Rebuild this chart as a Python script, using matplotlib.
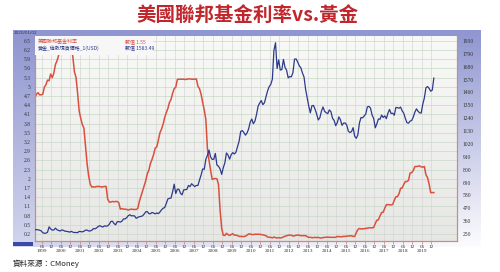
import numpy as np
import matplotlib.pyplot as plt
from matplotlib.patches import Rectangle

# monthly data, Jan 1999 - Jan 2020
fed_rate = [
    4.63, 4.76, 4.81, 4.74, 4.74, 4.76, 4.99, 5.07, 5.22, 5.20, 5.42, 5.30,
    5.45, 5.73, 5.85, 6.02, 6.27, 6.53, 6.54, 6.50, 6.52, 6.51, 6.51, 6.40,
    5.98, 5.49, 5.31, 4.80, 4.21, 3.97, 3.77, 3.65, 3.07, 2.49, 2.09, 1.82,
    1.73, 1.74, 1.73, 1.75, 1.75, 1.75, 1.73, 1.74, 1.75, 1.75, 1.34, 1.24,
    1.24, 1.26, 1.25, 1.26, 1.26, 1.22, 1.01, 1.03, 1.01, 1.01, 1.00, 0.98,
    1.00, 1.01, 1.00, 1.00, 1.00, 1.03, 1.26, 1.43, 1.61, 1.76, 1.93, 2.16,
    2.28, 2.50, 2.63, 2.79, 3.00, 3.04, 3.26, 3.50, 3.62, 3.78, 4.00, 4.16,
    4.29, 4.49, 4.59, 4.79, 4.94, 4.99, 5.24, 5.25, 5.25, 5.25, 5.25, 5.24,
    5.25, 5.26, 5.26, 5.25, 5.25, 5.25, 5.26, 5.02, 4.94, 4.76, 4.49, 4.24,
    3.94, 2.98, 2.61, 2.28, 1.98, 2.00, 2.01, 2.00, 1.81, 0.97, 0.39, 0.16,
    0.15, 0.22, 0.18, 0.15, 0.18, 0.21, 0.16, 0.16, 0.15, 0.12, 0.12, 0.12,
    0.11, 0.13, 0.16, 0.20, 0.20, 0.18, 0.18, 0.19, 0.19, 0.19, 0.19, 0.18,
    0.17, 0.16, 0.14, 0.10, 0.09, 0.09, 0.07, 0.10, 0.08, 0.07, 0.08, 0.07,
    0.08, 0.10, 0.13, 0.14, 0.16, 0.16, 0.16, 0.13, 0.14, 0.16, 0.16, 0.16,
    0.14, 0.15, 0.14, 0.15, 0.11, 0.09, 0.09, 0.08, 0.08, 0.09, 0.08, 0.09,
    0.07, 0.07, 0.08, 0.09, 0.09, 0.10, 0.09, 0.09, 0.09, 0.09, 0.09, 0.12,
    0.11, 0.11, 0.11, 0.12, 0.12, 0.13, 0.13, 0.14, 0.14, 0.12, 0.12, 0.24,
    0.34, 0.38, 0.36, 0.37, 0.37, 0.38, 0.39, 0.40, 0.40, 0.40, 0.41, 0.54,
    0.65, 0.66, 0.79, 0.90, 0.91, 1.04, 1.15, 1.16, 1.15, 1.15, 1.16, 1.30,
    1.41, 1.42, 1.51, 1.69, 1.70, 1.82, 1.91, 1.91, 1.95, 2.19, 2.20, 2.27,
    2.40, 2.40, 2.41, 2.42, 2.39, 2.38, 2.40, 2.13, 2.04, 1.83, 1.55, 1.55,
    1.55,
]

gold_price = [
    287, 287, 286, 282, 277, 261, 256, 257, 265, 311, 293, 283,
    284, 300, 286, 280, 275, 285, 281, 274, 273, 270, 266, 272,
    266, 262, 263, 261, 272, 270, 268, 273, 283, 283, 276, 276,
    282, 296, 294, 302, 314, 321, 314, 310, 319, 317, 319, 333,
    357, 359, 340, 328, 355, 356, 351, 360, 379, 379, 389, 407,
    414, 405, 406, 404, 384, 392, 398, 400, 405, 420, 439, 442,
    424, 423, 434, 429, 422, 430, 424, 438, 456, 470, 476, 510,
    549, 555, 557, 610, 676, 596, 633, 632, 598, 585, 627, 629,
    631, 665, 655, 680, 668, 655, 665, 665, 712, 754, 806, 803,
    889, 922, 968, 909, 888, 889, 939, 839, 829, 806, 760, 816,
    858, 943, 925, 890, 928, 946, 934, 949, 996, 1043, 1127, 1134,
    1118, 1095, 1113, 1148, 1205, 1233, 1193, 1215, 1271, 1343, 1370, 1391,
    1356, 1372, 1424, 1474, 1510, 1529, 1573, 1820, 1885, 1665, 1739, 1652,
    1656, 1743, 1674, 1650, 1585, 1596, 1594, 1630, 1745, 1747, 1721, 1688,
    1671, 1627, 1593, 1487, 1414, 1343, 1286, 1347, 1349, 1316, 1275, 1225,
    1244, 1300, 1336, 1299, 1287, 1279, 1311, 1296, 1239, 1222, 1176, 1202,
    1251, 1227, 1179, 1198, 1199, 1181, 1129, 1118, 1125, 1159, 1086, 1068,
    1097, 1199, 1246, 1243, 1260, 1276, 1337, 1341, 1326, 1266, 1238, 1158,
    1192, 1234, 1231, 1267, 1246, 1260, 1236, 1283, 1315, 1280, 1283, 1265,
    1331, 1331, 1325, 1335, 1303, 1282, 1238, 1202, 1198, 1215, 1221, 1250,
    1291, 1320, 1300, 1286, 1284, 1359, 1413, 1500, 1511, 1495, 1471, 1480,
    1583,
]

rate_ticks = [6.5, 6.2, 5.9, 5.6, 5.3, 5, 4.7, 4.4, 4.1, 3.8, 3.5, 3.2, 2.9,
              2.6, 2.3, 2, 1.7, 1.4, 1.1, 0.8, 0.5, 0.2]
gold_ticks = [1900, 1790, 1680, 1570, 1460, 1350, 1240, 1130, 1020, 910,
              800, 690, 580, 470, 360, 250]
years = list(range(1999, 2020))

months = 1999 + (np.arange(len(fed_rate)) + 0.5) / 12

W, H = 500, 272
def box(x0, y0, x1, y1):
    return [x0 / W, 1 - y1 / H, (x1 - x0) / W, (y1 - y0) / H]

fig = plt.figure(figsize=(5, 2.72), dpi=100)
fig.patch.set_facecolor('white')

# blue gradient frame
frame = fig.add_axes(box(13, 30, 480, 247))
ny, nx = 100, 200
t = np.linspace(0, 1, ny)[:, None]
s = np.linspace(0, 1, nx)[None, :]
w = np.clip(0.08 + 0.55 * t + 0.35 * t * s, 0, 1)
blue = np.array([0.52, 0.55, 0.80])
img = blue[None, None, :] * (1 - w[..., None]) + np.ones(3) * w[..., None]
frame.imshow(img, aspect='auto', extent=[0, 1, 0, 1])
frame.axis('off')

# plot area background
bg = fig.add_axes(box(35, 36, 457, 241))
tv = np.linspace(0, 1, 50)[:, None]
g = 0.975 - 0.07 * tv
bg.imshow(np.dstack([g, g, g * 0.99]), aspect='auto', extent=[0, 1, 0, 1])
bg.axis('off')

ax = fig.add_axes(box(35, 36, 457, 241))
ax.patch.set_alpha(0)
ax2 = ax.twinx()

ax.set_xlim(1999.05, 2021.26)
ax.set_ylim(-0.03, 6.66)
ax2.set_ylim(190, 1943)

ax.set_yticks(rate_ticks)
ax.set_yticklabels([f'{v:g}' for v in rate_ticks])
ax2.set_yticks(gold_ticks)
ax2.set_yticklabels([str(v) for v in gold_ticks])

xt, xl = [], []
for y in years:
    xt += [y + 5 / 12, y + 11 / 12]
    xl += [f'06\n{y}', '12']
ax.set_xticks(xt)
ax.set_xticklabels(xl)

ax.grid(axis='y', color='#c9d8c9', lw=0.5)
ax.grid(axis='x', color='#d6d6d6', lw=0.5)
ax.set_axisbelow(True)

ax.plot(months, fed_rate, color='#d9503f', lw=1.1, zorder=3)
ax2.plot(months, gold_price, color='#2d3a8c', lw=0.9, zorder=3)

tick_font = 'Liberation Serif'
ax.tick_params(axis='y', length=0, pad=3, labelsize=4, labelcolor='#333333')
ax2.tick_params(axis='y', length=0, pad=4, labelsize=4, labelcolor='#333333')
ax.tick_params(axis='x', length=2, width=0.5, color='#c87b6a', pad=1,
               labelsize=3.8, labelcolor='#333333')
for lab in ax.get_xticklabels() + ax.get_yticklabels() + ax2.get_yticklabels():
    lab.set_family(tick_font)
for lab in ax.get_xticklabels():
    lab.set_linespacing(0.9)

for a in (ax, ax2):
    a.spines['top'].set_visible(False)
    for k in ('left', 'right', 'bottom'):
        a.spines[k].set_color('#c98c80')
        a.spines[k].set_linewidth(0.8)

# legend box
cjk = ['Noto Sans CJK TC', 'DejaVu Sans']
ax2.add_patch(Rectangle((0, 0.907), 0.28, 0.093, transform=ax2.transAxes,
                        facecolor='#f7f7f7', edgecolor='none', zorder=5))
ax2.text(0.007, 0.971, '美國聯邦基金利率', transform=ax2.transAxes, color='#d9503f',
         fontsize=3.6, family=cjk, va='center', zorder=6)
ax2.text(0.213, 0.971, '數值 1.55', transform=ax2.transAxes, color='#d9503f',
         fontsize=3.6, family=cjk, va='center', zorder=6)
ax2.text(0.007, 0.941, '黃金_倫敦現貨價格_1(USD)', transform=ax2.transAxes,
         color='#2d3a8c', fontsize=3.6, family=cjk, va='center', zorder=6)
ax2.text(0.213, 0.941, '數值 1583.49', transform=ax2.transAxes, color='#2d3a8c',
         fontsize=3.6, family=cjk, va='center', zorder=6)

fig.text(14 / W, 1 - 33 / H, '2020/01/02', fontsize=3, color='#333333',
         va='center')
fig.patches.append(Rectangle((13 / W, 1 - 246 / H), 20 / W, 4 / H,
                             transform=fig.transFigure, facecolor='#3b4aa8',
                             edgecolor='none'))

fig.text(247 / W, 1 - 16 / H, '美國聯邦基金利率vs.黃金', ha='center', va='center',
         fontsize=14, fontweight='heavy', color='#c0272d', family=cjk)
fig.text(13 / W, 1 - 264 / H, '資料來源：CMoney', ha='left', va='center',
         fontsize=5.5, color='#222222', family=cjk)

fig.savefig('out.png', dpi=100)
